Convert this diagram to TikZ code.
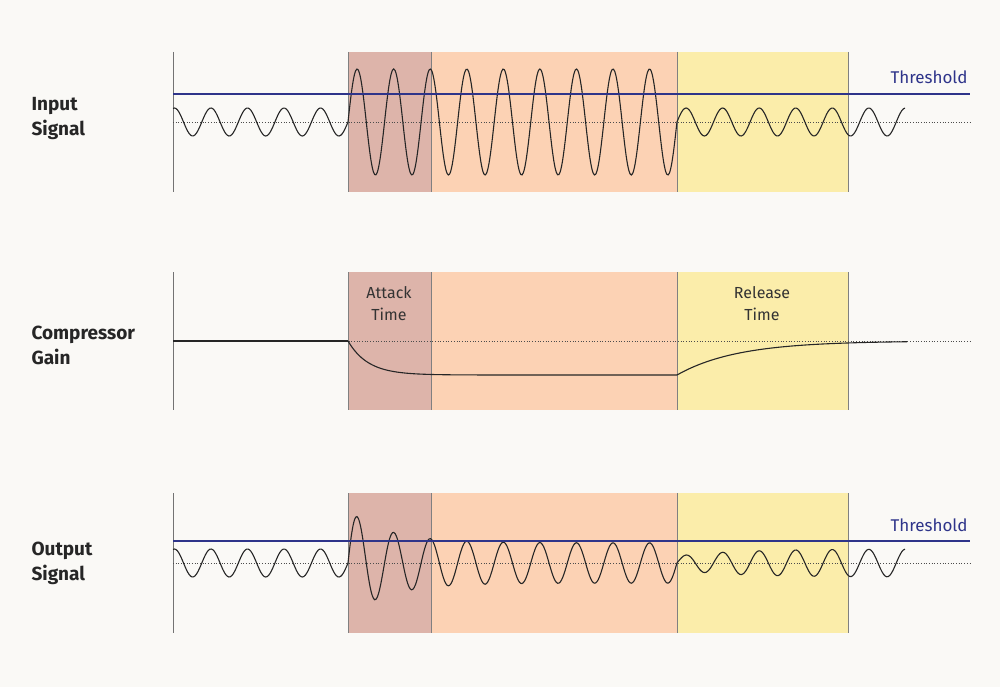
\documentclass[tikz,border=0pt]{standalone}
\usepackage{fontspec}
\setmainfont{Fira Sans}
\begin{document}
\begin{tikzpicture}[x=1pt,y=-1pt,
  lbl/.style={anchor=west,align=left,font=\fontsize{19}{25}\selectfont\bfseries,text=black!85},
  thr/.style={draw=thrblue,line width=1.6pt},
  thrlbl/.style={anchor=base east,text=thrblue,font=\fontsize{17}{20}\selectfont},
  mid/.style={draw=black!70,dotted,line width=0.7pt},
  axis/.style={draw=black!55,line width=0.8pt},
  sig/.style={draw=black!85,line width=1.1pt,smooth},
  reg/.style={draw=black!50,line width=0.5pt},
  inlbl/.style={align=center,font=\fontsize{16}{22}\selectfont,text=black!80}]
\definecolor{bg}{HTML}{FAF9F6}
\definecolor{attc}{HTML}{DDB4AA}
\definecolor{susc}{HTML}{FCD2B4}
\definecolor{relc}{HTML}{FBEDAA}
\definecolor{thrblue}{HTML}{2E348A}
\fill[bg] (0,0) rectangle (1000,687);
\useasboundingbox (0,0) rectangle (1000,687);
\def\W{9.8495}
% regions
\foreach \ya/\yb in {52/192,272/410,493/633}{
  \fill[attc] (348,\ya) rectangle (431,\yb);
  \fill[susc] (431,\ya) rectangle (677,\yb);
  \fill[relc] (677,\ya) rectangle (848,\yb);
  \draw[reg] (348,\ya) -- (348,\yb) (431,\ya) -- (431,\yb) (677,\ya) -- (677,\yb) (848,\ya) -- (848,\yb);
  \draw[axis] (173,\ya) -- (173,\yb);
}
% ---- input
\node[lbl] (in) at (28,119) {Input\\Signal};
\draw[mid] (173,122) -- (970,122);
\draw[sig] plot[domain=173:348,samples=120] (\x,{122-14*sin(\W*(\x-348))});
\draw[sig] plot[domain=348:677,samples=260] (\x,{122-53*sin(\W*(\x-348))});
\draw[sig] plot[domain=677:905,samples=150] (\x,{122-14*sin(\W*(\x-348))});
\draw[thr] (173,94) -- (970,94);
\node[thrlbl] (t1) at (971,84) {Threshold};
% ---- gain
\node[lbl] (cg) at (28,345) {Compressor\\Gain};
\draw[mid] (173,341) -- (970,341);
\draw[sig] (173,341) -- (348,341);
\draw[sig] plot[domain=348:677,samples=150] (\x,{341+34*(1-exp(-(\x-348)/20))});
\draw[sig] plot[domain=677:907,samples=120] (\x,{341+34*exp(-(\x-677)/60)});
\node[inlbl] (at) at (389,304) {Attack\\Time};
\node[inlbl] (rt) at (762,304) {Release\\Time};
% ---- output
\node[lbl] (out) at (28,563) {Output\\Signal};
\draw[mid] (173,563) -- (970,563);
\draw[sig] plot[domain=173:348,samples=120] (\x,{563-14*sin(\W*(\x-348))});
\draw[sig] plot[domain=348:677,samples=260] (\x,{563-53*(0.38+0.62*exp(-(\x-348)/40))*sin(\W*(\x-348))});
\draw[sig] plot[domain=677:905,samples=150] (\x,{563-14*(1-0.5*exp(-(\x-677)/60))*sin(\W*(\x-348))});
\draw[thr] (173,541) -- (970,541);
\node[thrlbl] (t2) at (971,531) {Threshold};
\end{tikzpicture}
\end{document}
